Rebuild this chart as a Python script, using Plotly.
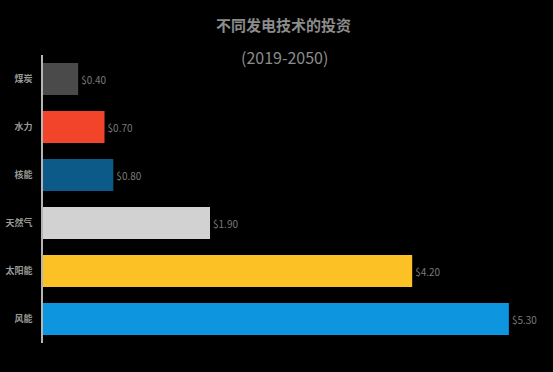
import plotly.graph_objects as go

categories = ["煤炭", "水力", "核能", "天然气", "太阳能", "风能"]
values = [0.40, 0.70, 0.80, 1.90, 4.20, 5.30]
value_labels = ["$0.40", "$0.70", "$0.80", "$1.90", "$4.20", "$5.30"]
colors = ["#4a4a4a", "#f2432b", "#0b5a88", "#d2d2d2", "#fcc225", "#0e95df"]

W, H = 553, 372
ml, mr, mt, mb = 43, 20, 55, 29
px_per_unit = 87.9
xmax = (W - ml - mr) / px_per_unit

fig = go.Figure(go.Bar(
    x=values, y=categories, orientation="h",
    marker=dict(color=colors, line=dict(width=0)),
    width=0.67,
    text=value_labels, textposition="outside",
    textfont=dict(color="#7a7a7a", size=10, family="Noto Sans CJK SC"),
    cliponaxis=False,
))

fig.update_layout(
    width=W, height=H,
    paper_bgcolor="#000000", plot_bgcolor="#000000",
    margin=dict(l=ml, r=mr, t=mt, b=mb, autoexpand=False),
    showlegend=False,
    font=dict(family="Noto Sans CJK SC", color="#8a8a8a"),
    xaxis=dict(range=[0, xmax], visible=False, fixedrange=True, automargin=False),
    yaxis=dict(
        autorange="reversed", showgrid=False, zeroline=False, automargin=False,
        showline=True, linecolor="#b5b5b5", linewidth=1.5,
        ticks="", ticklabelstandoff=7,
        tickfont=dict(size=9, color="#9a9a9a", family="Noto Sans CJK SC", weight="bold"),
    ),
)

plot_h = H - mt - mb
plot_w = W - ml - mr
def py(ypix):
    return (H - mb - ypix) / plot_h
def px(xpix):
    return (xpix - ml) / plot_w

fig.add_annotation(text="<b>不同发电技术的投资</b>", xref="paper", yref="paper",
                   x=px(283), y=py(25), showarrow=False,
                   font=dict(size=15, color="#8c8c8c", family="Noto Sans CJK SC"),
                   xanchor="center", yanchor="middle")
fig.add_annotation(text="(2019-2050)", xref="paper", yref="paper",
                   x=px(284), y=py(57), showarrow=False,
                   font=dict(size=16, color="#8c8c8c", family="Noto Sans CJK SC"),
                   xanchor="center", yanchor="middle")

fig.write_html("out.html", config={"displayModeBar": False},
               post_script="document.body.style.margin='0';document.body.style.background='#000';")
